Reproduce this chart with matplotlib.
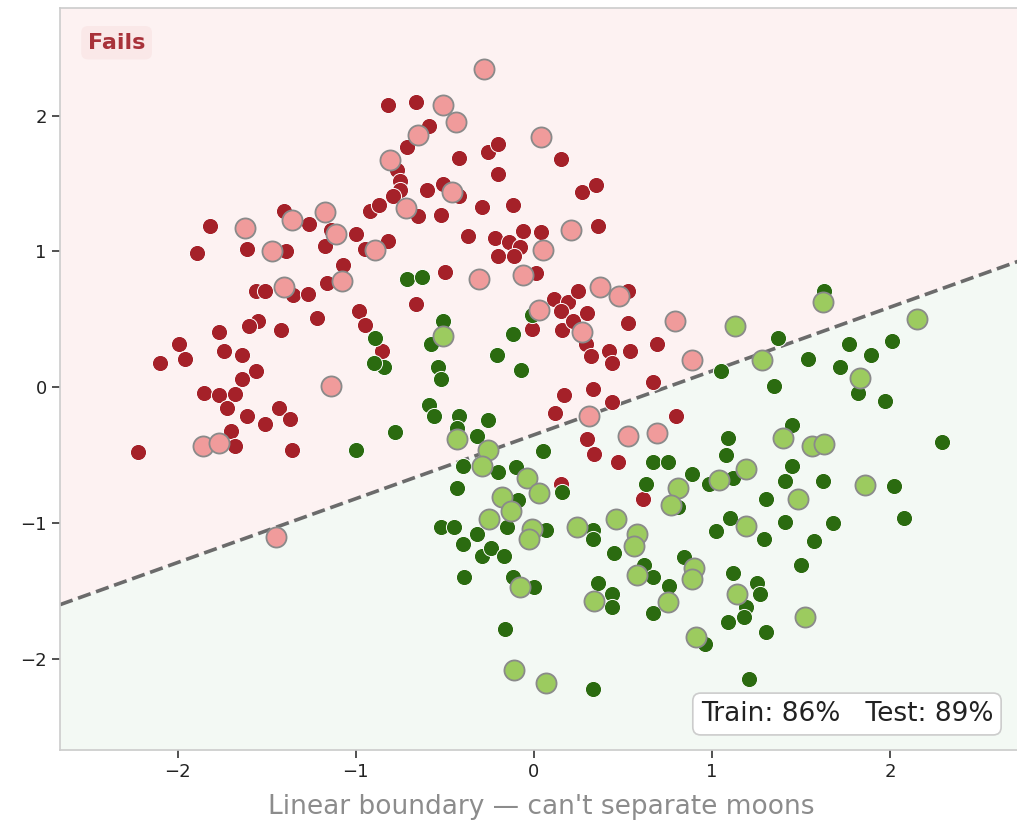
import matplotlib
matplotlib.use("Agg")
import matplotlib.pyplot as plt
import numpy as np

plt.rcParams['font.family'] = ['DejaVu Sans']

# class 0 (red), training points
red_train_x = [-0.82, -0.66, -0.59, -0.71, -0.77, -0.75, -0.75, -0.79, -0.65, -0.52,
               -0.60, -0.51, -0.42, -0.42, -0.26, -0.20, -0.20, -0.29, -0.12, 0.15,
               0.27, 0.35, 0.36, -0.37, -0.22, -0.14, -0.06, 0.04, -0.08, -0.20,
               -0.11, -0.82, -1.82, -1.40, -1.26, -1.14, -1.00, -0.92, -0.87, -1.89,
               -1.61, -1.39, -1.17, -0.95, -1.07, -1.16, -1.35, -1.27, -1.56, -1.51,
               -1.55, -1.60, -1.42, -1.22, -0.98, -0.95, -0.85, -1.77, -1.99, -1.96,
               -2.10, -1.74, -1.64, -1.56, -1.64, -1.85, -1.77, -1.68, -1.72, -1.61,
               -1.51, -1.43, -1.37, -1.70, -1.68, -1.36, -2.22, -0.50, 0.01, -0.66,
               0.11, 0.19, 0.25, 0.15, 0.16, -0.01, 0.22, 0.30, 0.29, 0.32,
               0.53, 0.53, 0.42, 0.44, 0.54, 0.69, 0.67, 0.33, 0.17, 0.12,
               0.44, 0.80, 0.30, 0.34, 0.47, 0.15, 0.61]
red_train_y = [2.08, 2.10, 1.92, 1.77, 1.60, 1.52, 1.45, 1.41, 1.26, 1.27,
               1.45, 1.50, 1.41, 1.69, 1.73, 1.79, 1.57, 1.33, 1.34, 1.68,
               1.44, 1.49, 1.19, 1.11, 1.10, 1.07, 1.15, 1.14, 1.03, 0.97,
               0.97, 1.08, 1.19, 1.30, 1.20, 1.16, 1.13, 1.30, 1.34, 0.99,
               1.02, 1.00, 1.04, 1.02, 0.90, 0.77, 0.68, 0.69, 0.71, 0.71,
               0.49, 0.45, 0.42, 0.51, 0.56, 0.46, 0.27, 0.41, 0.32, 0.21,
               0.18, 0.27, 0.24, 0.12, 0.06, -0.04, -0.06, -0.05, -0.15, -0.21,
               -0.27, -0.15, -0.23, -0.32, -0.43, -0.46, -0.48, 0.85, 0.84, 0.61,
               0.65, 0.63, 0.71, 0.56, 0.42, 0.43, 0.49, 0.55, 0.32, 0.23,
               0.71, 0.47, 0.27, 0.18, 0.27, 0.32, 0.04, -0.01, -0.06, -0.19,
               -0.11, -0.21, -0.38, -0.49, -0.55, -0.71, -0.82]

# class 0 (red), test points
red_test_x = [-0.28, -0.51, -0.44, -0.65, -0.81, -0.72, -0.46, 0.04, 0.21, 0.05,
              -1.62, -1.36, -1.17, -1.11, -1.47, -0.89, -1.08, -1.40, -1.14, -1.86,
              -1.77, -0.31, -0.06, 0.03, 0.27, 0.37, 0.48, 0.79, 0.89, 0.31,
              0.53, 0.69, -1.45]
red_test_y = [2.34, 2.08, 1.95, 1.86, 1.67, 1.32, 1.44, 1.84, 1.16, 1.01,
              1.17, 1.23, 1.29, 1.13, 1.00, 1.01, 0.78, 0.74, 0.01, -0.43,
              -0.41, 0.80, 0.83, 0.57, 0.41, 0.74, 0.67, 0.49, 0.20, -0.21,
              -0.36, -0.34, -1.10]

# class 1 (green), training points
green_train_x = [-0.71, -0.63, -0.51, -0.58, -0.89, -0.84, -0.90, -0.54, -0.52, -0.21,
                 -0.12, -0.07, -0.59, -0.56, -0.42, -0.43, -0.32, -0.26, -0.78, 0.05,
                 -0.40, -0.20, -0.10, -0.43, -0.09, 0.16, -0.01, 0.67, 0.75, 0.89,
                 0.63, 1.63, 1.37, 1.05, 1.35, 1.54, 1.77, 2.01, 1.89, 1.72,
                 1.82, 1.97, 2.29, 1.09, 1.08, 1.45, 1.12, 0.98, 1.45, 1.41,
                 1.62, 2.02, 1.30, 1.10, 1.02, 1.41, 1.29, 1.68, 1.57, 2.08,
                 1.12, 1.50, 1.25, 1.27, 1.19, 1.18, 1.09, 1.30, 0.96, 1.21,
                 -0.52, -0.45, -0.32, -0.40, -0.15, -0.29, -0.24, -0.17, 0.07, 0.33,
                 0.33, 0.45, 0.62, 0.67, 0.81, 0.84, 0.76, 0.67, -0.39, -0.12,
                 0.00, 0.36, 0.44, 0.44, -0.16, 0.33, -1.00]
green_train_y = [0.80, 0.81, 0.49, 0.32, 0.36, 0.15, 0.18, 0.15, 0.06, 0.24,
                 0.39, 0.13, -0.13, -0.21, -0.21, -0.30, -0.36, -0.24, -0.33, -0.47,
                 -0.58, -0.62, -0.59, -0.74, -0.83, -0.77, 0.53, -0.55, -0.55, -0.64,
                 -0.71, 0.71, 0.36, 0.12, 0.01, 0.21, 0.32, 0.34, 0.24, 0.15,
                 -0.04, -0.10, -0.40, -0.37, -0.50, -0.28, -0.67, -0.71, -0.58, -0.69,
                 -0.69, -0.73, -0.82, -0.96, -1.06, -0.99, -1.12, -1.00, -1.13, -0.96,
                 -1.37, -1.31, -1.44, -1.52, -1.62, -1.69, -1.73, -1.80, -1.89, -2.15,
                 -1.03, -1.03, -1.08, -1.15, -1.03, -1.24, -1.18, -1.24, -1.05, -1.05,
                 -1.12, -1.22, -1.31, -1.40, -0.88, -1.25, -1.46, -1.66, -1.40, -1.40,
                 -1.47, -1.44, -1.52, -1.62, -1.78, -2.22, -0.46]

# class 1 (green), test points
green_test_x = [-0.51, -0.43, -0.26, -0.29, -0.04, -0.18, 0.03, 0.81, 0.77, 1.62,
                1.13, 1.28, 2.15, 1.83, 1.40, 1.56, 1.63, 1.19, 1.04, 1.86,
                1.48, 1.19, 1.14, 1.52, 0.90, 0.91, -0.25, -0.13, -0.01, -0.03,
                0.24, 0.46, 0.58, 0.56, 0.58, 0.89, 0.75, -0.08, 0.34, -0.11,
                0.07]
green_test_y = [0.38, -0.38, -0.46, -0.58, -0.67, -0.81, -0.78, -0.74, -0.87, 0.63,
                0.45, 0.20, 0.50, 0.07, -0.37, -0.43, -0.42, -0.60, -0.68, -0.72,
                -0.82, -1.02, -1.52, -1.69, -1.33, -1.84, -0.97, -0.91, -1.04, -1.12,
                -1.03, -0.97, -1.08, -1.17, -1.38, -1.41, -1.58, -1.47, -1.57, -2.08,
                -2.18]

# linear decision boundary y = slope * x + intercept
boundary_slope = 0.47
boundary_intercept = -0.35
train_acc = 86
test_acc = 89

xlim = (-2.66, 2.74)
ylim = (-2.67, 2.79)

fig = plt.figure(figsize=(10.17, 8.26), dpi=100)
ax = fig.add_axes([0.059, 0.092, 0.946, 0.898])

xs = np.linspace(xlim[0], xlim[1], 50)
line = boundary_slope * xs + boundary_intercept
ax.fill_between(xs, line, ylim[1], color='#fdf2f2', zorder=0)
ax.fill_between(xs, ylim[0], line, color='#f3f9f4', zorder=0)
ax.plot(xs, line, color='#6b6b6b', lw=2.6, ls='--', zorder=1)

ax.scatter(red_train_x, red_train_y, s=135, c='#a52129', edgecolors='white',
           linewidths=0.7, zorder=2)
ax.scatter(green_train_x, green_train_y, s=135, c='#2b6b10', edgecolors='white',
           linewidths=0.7, zorder=2)
ax.scatter(red_test_x, red_test_y, s=210, c='#f09b9b', edgecolors='#8a8a8a',
           linewidths=1.3, zorder=3)
ax.scatter(green_test_x, green_test_y, s=210, c='#9ccb5f', edgecolors='#8a8a8a',
           linewidths=1.3, zorder=3)

ax.set_xlim(*xlim)
ax.set_ylim(*ylim)
ax.set_xticks([-2, -1, 0, 1, 2])
ax.set_yticks([-2, -1, 0, 1, 2])
ax.tick_params(labelsize=13, length=6, width=1.2, color='#333333', labelcolor='#222222')
for sp in ax.spines.values():
    sp.set_color('#cccccc')
    sp.set_linewidth(1.2)

ax.set_xlabel("Linear boundary \u2014 can't separate moons", fontsize=19,
              color='#8c8c8c', labelpad=9)

ax.text(0.029, 0.967, 'Fails', transform=ax.transAxes, fontsize=16,
        fontweight='bold', color='#a8323a', ha='left', va='top',
        bbox=dict(boxstyle='round,pad=0.3', fc='#fae8e8', ec='none'))
ax.text(0.970, 0.031, f'Train: {train_acc}%   Test: {test_acc}%',
        transform=ax.transAxes, fontsize=19, color='#222222', ha='right',
        va='bottom',
        bbox=dict(boxstyle='round,pad=0.3', fc='white', ec='#cccccc', lw=1.2))

fig.savefig('out.png', dpi=100)
